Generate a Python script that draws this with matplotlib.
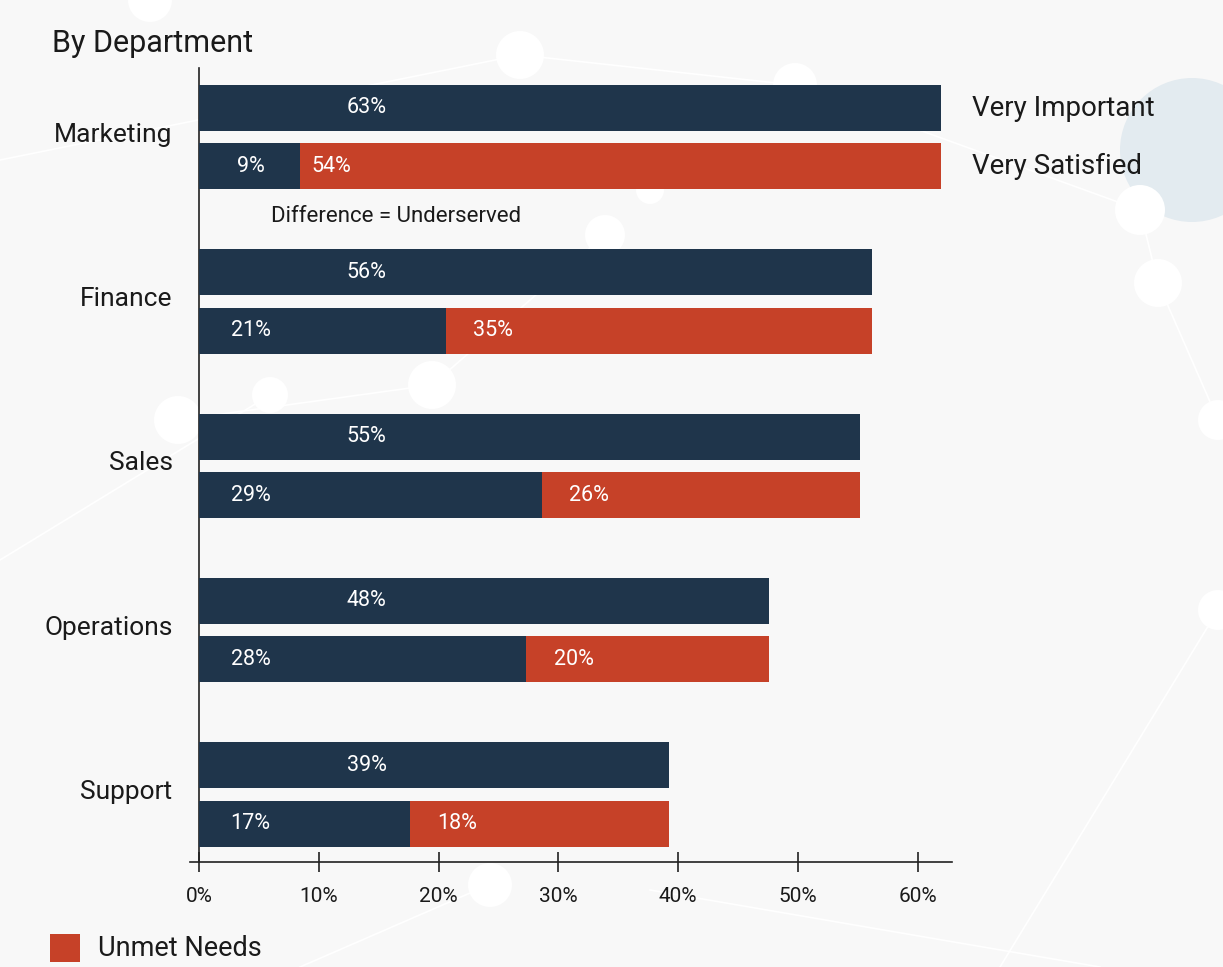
import matplotlib
matplotlib.use("Agg")
import matplotlib.pyplot as plt
from matplotlib.patches import Ellipse, Rectangle
import numpy as np

plt.rcParams['font.family'] = ['Roboto', 'DejaVu Sans']

departments = ["Marketing", "Finance", "Sales", "Operations", "Support"]
very_important = [61.9, 56.2, 55.2, 47.6, 39.2]
very_satisfied = [8.4, 20.6, 28.6, 27.3, 17.6]
important_labels = ["63%", "56%", "55%", "48%", "39%"]
satisfied_labels = ["9%", "21%", "29%", "28%", "17%"]
unmet_labels = ["54%", "35%", "26%", "20%", "18%"]
xticks = [0, 10, 20, 30, 40, 50, 60]
xtick_labels = ["0%", "10%", "20%", "30%", "40%", "50%", "60%"]

NAVY = "#1f354b"
RED = "#c64128"
BG = "#f8f8f8"
TXT = "#1a1a1a"

fig = plt.figure(figsize=(12.23, 9.67), dpi=100, facecolor=BG)

# faint decorative background (network motif)
W, H = 1223, 967
def fx(x): return x / W
def fy(y): return 1 - y / H
deco_lines = [((0, 160), (520, 55)), ((520, 55), (795, 85)), ((795, 85), (1140, 210)),
              ((1140, 210), (1158, 283)), ((605, 235), (432, 385)), ((432, 385), (178, 420)),
              ((1158, 283), (1218, 420)), ((650, 890), (1100, 967)), ((500, 880), (300, 967)),
              ((1218, 610), (1000, 967)), ((0, 560), (270, 395))]
for (a, b) in deco_lines:
    fig.add_artist(plt.Line2D([fx(a[0]), fx(b[0])], [fy(a[1]), fy(b[1])],
                              color="white", lw=1.2, zorder=0))

def circ(cx, cy, r, color):
    fig.add_artist(Ellipse((fx(cx), fy(cy)), 2 * r / W, 2 * r / H, transform=fig.transFigure,
                           facecolor=color, edgecolor="none", zorder=0))

circ(1192, 150, 72, "#e3ebf0")
for (cx, cy, r) in [(150, 0, 22), (520, 55, 24), (795, 85, 22), (1140, 210, 25),
                    (1158, 283, 24), (605, 235, 20), (432, 385, 24), (178, 420, 24),
                    (270, 395, 18), (1218, 420, 20), (1218, 610, 20), (650, 190, 14), (490, 885, 22)]:
    circ(cx, cy, r, "white")

ax = fig.add_axes([190 / W, 1 - 862 / H, (952 - 190) / W, (862 - 68) / H])
ax.set_facecolor("none")

for s in ["top", "right"]:
    ax.spines[s].set_visible(False)
ax.spines["left"].set_position(("data", 0))
ax.spines["left"].set_color("#222222")
ax.spines["bottom"].set_color("#222222")
ax.spines["left"].set_linewidth(1.2)
ax.spines["bottom"].set_linewidth(1.2)

y = np.arange(len(departments))
off = 0.178
h = 0.28
unmet = [a - b for a, b in zip(very_important, very_satisfied)]

ax.barh(y - off, very_important, height=h, color=NAVY, zorder=3)
ax.barh(y + off, very_satisfied, height=h, color=NAVY, zorder=3)
ax.barh(y + off, unmet, left=very_satisfied, height=h, color=RED, zorder=3)

LBL = 15.5
for i in range(len(departments)):
    ax.text(14, y[i] - off, important_labels[i], color="white", fontsize=LBL,
            ha="center", va="center", zorder=4)
    ax.text(4.3, y[i] + off, satisfied_labels[i], color="white", fontsize=LBL,
            ha="center", va="center", zorder=4)
    gap = 1.0 if i == 0 else 2.3
    ax.text(very_satisfied[i] + gap, y[i] + off, unmet_labels[i], color="white",
            fontsize=LBL, ha="left", va="center", zorder=4)

ax.set_xlim(-0.75, 62.85)
ax.set_ylim(4.41, -0.42)
ax.set_yticks(y - 0.03)
ax.set_yticklabels(departments, fontsize=19, color=TXT)
ax.tick_params(axis="y", length=0, pad=19)
ax.set_xticks(xticks)
ax.set_xticklabels(xtick_labels, fontsize=15, color=TXT)
ax.tick_params(axis="x", direction="inout", length=14, width=1.2, color="#222222", pad=11)

# annotations
fig.text(52 / W, fy(43), "By Department", fontsize=22, color=TXT, va="center", ha="left")
fig.text(972 / W, fy(108), "Very Important", fontsize=20, color=TXT, va="center", ha="left")
fig.text(972 / W, fy(166), "Very Satisfied", fontsize=20, color=TXT, va="center", ha="left")
fig.text(271 / W, fy(217), "Difference = Underserved", fontsize=16, color=TXT, va="center", ha="left")

# legend
fig.add_artist(Rectangle((50 / W, fy(962)), 30 / W, 28 / H, transform=fig.transFigure,
                         facecolor=RED, edgecolor="none"))
fig.text(98 / W, fy(949), "Unmet Needs", fontsize=19.5, color=TXT, va="center", ha="left")

fig.savefig("out.png", dpi=100, facecolor=BG)
